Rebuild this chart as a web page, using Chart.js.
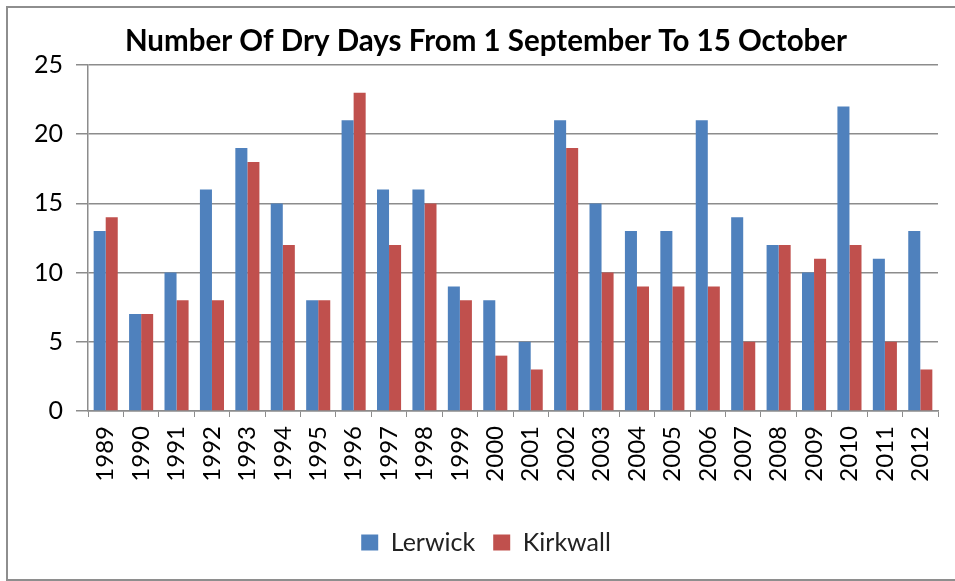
<!DOCTYPE html>
<html>
<head>
<meta charset="utf-8">
<script src="https://cdn.jsdelivr.net/npm/chart.js@4.4.1/dist/chart.umd.min.js"></script>
<style>
  body { margin: 0; background: #fff; }
  #wrap { position: relative; width: 955px; height: 581px; overflow: hidden; }
  #frame { position: absolute; left: 6px; top: 6px; width: 960px; height: 571px; border: 2px solid #8e8e8e; }
  canvas { position: absolute; left: 0; top: 0; }
</style>
</head>
<body>
<div id="wrap">
  <div id="frame"></div>
  <canvas id="chart" width="955" height="581"></canvas>
</div>
<script>
// Dry days between 1 Sep and 15 Oct, per year
const years = ['1989','1990','1991','1992','1993','1994','1995','1996','1997','1998','1999','2000',
               '2001','2002','2003','2004','2005','2006','2007','2008','2009','2010','2011','2012'];
const lerwick  = [13, 7, 10, 16, 19, 15, 8, 21, 16, 16, 9, 8, 5, 21, 15, 13, 13, 21, 14, 12, 10, 22, 11, 13];
const kirkwall = [14, 7,  8,  8, 18, 12, 8, 23, 12, 15, 8, 4, 3, 19, 10,  9,  9,  9,  5, 12, 11, 12,  5,  3];
const yTicks = [0, 5, 10, 15, 20, 25];

const font = 'Lato, "Open Sans", sans-serif';
const gridColor = '#8c8c8c';

const data = {
  labels: years,
  datasets: [
    { label: 'Lerwick',  data: lerwick,  backgroundColor: '#4f81bd', barPercentage: 1, categoryPercentage: 0.68 },
    { label: 'Kirkwall', data: kirkwall, backgroundColor: '#c0504d', barPercentage: 1, categoryPercentage: 0.68 }
  ]
};

const config = {
  type: 'bar',
  data,
  options: {
    responsive: false,
    animation: false,
    layout: { padding: { left: 34, right: 17, top: 0, bottom: 16 } },
    plugins: {
      title: {
        display: true,
        text: 'Number Of Dry Days From 1 September To 15 October',
        color: '#000',
        font: { family: font, size: 29.5, weight: 'bold' },
        padding: { top: 24, bottom: 5.6 }
      },
      legend: {
        position: 'bottom',
        labels: {
          color: '#222',
          font: { family: font, size: 25 },
          boxWidth: 17,
          boxHeight: 16,
          padding: 18
        }
      },
      tooltip: { enabled: false }
    },
    scales: {
      x: {
        offset: true,
        grid: { offset: true, drawOnChartArea: false, color: gridColor, tickLength: 6 },
        border: { color: gridColor, width: 1.5 },
        ticks: { color: '#000', font: { family: font, size: 24 }, minRotation: 90, maxRotation: 90, padding: 9 },
        afterFit: s => { s.height = 101; s.paddingLeft = 0; s.paddingRight = 0; }
      },
      y: {
        min: 0,
        max: 25,
        afterBuildTicks: s => { s.ticks = yTicks.map(v => ({ value: v })); },
        grid: { color: gridColor, lineWidth: 1.5, tickLength: 12 },
        border: { color: gridColor, width: 1.5 },
        ticks: { color: '#000', font: { family: font, size: 25 }, padding: 13 },
        afterFit: s => { s.width = 54; }
      }
    }
  }
};

const chart = new Chart(document.getElementById('chart'), config);
</script>
</body>
</html>
